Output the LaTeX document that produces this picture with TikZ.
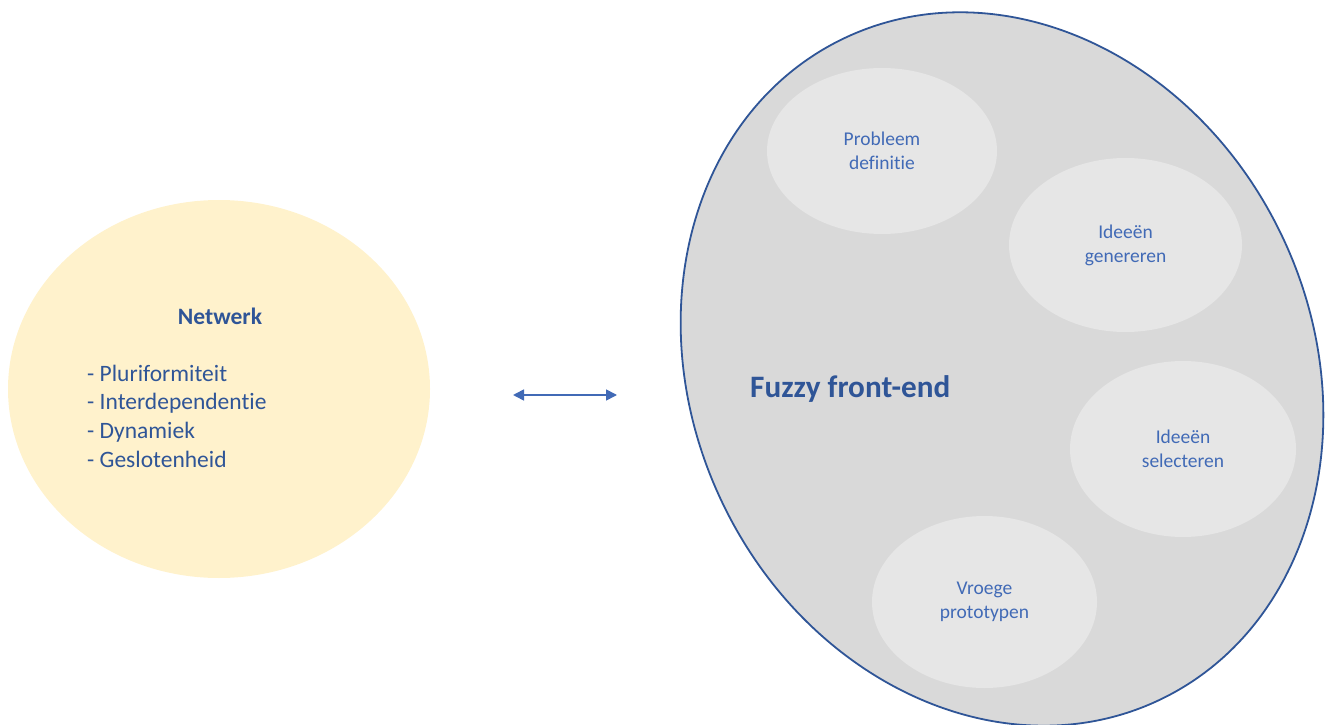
\documentclass[tikz,border=0pt]{standalone}
\usepackage{fontspec}
\setmainfont{Carlito}[Ligatures={NoCommon,NoRequired,NoContextual}, RawFeature={-liga;-clig;-dlig}]
\usetikzlibrary{shapes.geometric,arrows.meta}

\definecolor{netfill}{HTML}{FFF2CC}
\definecolor{ffefill}{HTML}{D9D9D9}
\definecolor{stagefill}{HTML}{E6E6E6}
\definecolor{darkblue}{HTML}{2F5597}
\definecolor{midblue}{HTML}{416AB6}

\tikzset{
  blob/.style={ellipse, inner sep=0pt, outer sep=0pt},
  stage/.style={blob, fill=stagefill, text=midblue, align=center,
    font=\fontsize{19.5}{24}\selectfont},
  listline/.style={anchor=base west, inner sep=0pt, text=darkblue,
    font=\fontsize{23.5}{28.7}\selectfont},
  twoway/.style={draw=midblue, line width=1.6pt,
    {Triangle[length=11pt,width=11pt]}-{Triangle[length=11pt,width=11pt]}},
}

\begin{document}
\begin{tikzpicture}[x=1pt, y=1pt]
  \useasboundingbox (0,0) rectangle (1329,724);

  % network ellipse with its list
  \node[blob, fill=netfill, minimum width=422pt, minimum height=378pt]
    (net) at (219,335) {};
  \node[anchor=base, inner sep=0pt, text=darkblue,
    font=\fontsize{23.5}{28.7}\selectfont\bfseries] (nettitle) at (220,400) {Netwerk};
  \node[listline] (l1) at (87,343) {- Pluriformiteit};
  \node[listline] (l2) at (87,314.3) {- Interdependentie};
  \node[listline] (l3) at (87,285.6) {- Dynamiek};
  \node[listline] (l4) at (87,256.9) {- Geslotenheid};

  % fuzzy front-end ellipse
  \node[blob, draw=darkblue, fill=ffefill, line width=1.8pt,
    minimum width=620pt, minimum height=733pt, rotate=25.6]
    (ffe) at (1002,355) {};
  \node[anchor=base west, inner sep=0pt, text=darkblue,
    font=\fontsize{31.2}{36}\selectfont\bfseries] (ffetitle) at (750,327) {Fuzzy front-end};

  % the four stages inside it
  \node[stage, minimum width=230pt, minimum height=166pt] (s1) at (882,573) {Probleem\\definitie};
  \node[stage, minimum width=233pt, minimum height=174pt] (s2) at (1125.5,479) {Ideeën\\genereren};
  \node[stage, minimum width=226pt, minimum height=176pt] (s3) at (1183,275) {Ideeën\\selecteren};
  \node[stage, minimum width=225pt, minimum height=172pt] (s4) at (984.5,122) {Vroege\\prototypen};

  % two-way link between the two sides
  \coordinate (linkL) at (513,329);
  \coordinate (linkR) at (617,329);
  \draw[twoway] (linkL) -- (linkR);
\end{tikzpicture}
\end{document}
